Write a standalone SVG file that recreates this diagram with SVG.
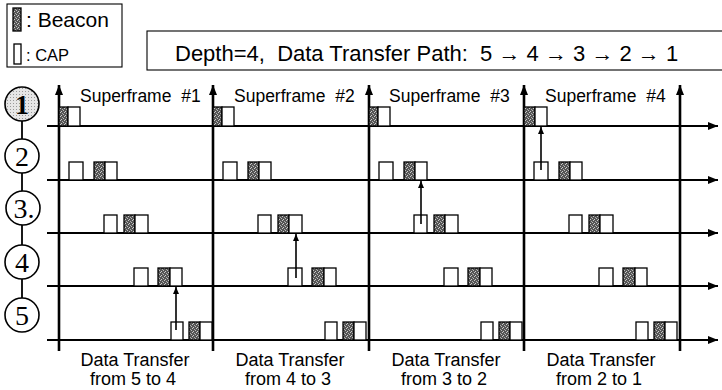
<svg xmlns="http://www.w3.org/2000/svg" width="722" height="390" viewBox="0 0 722 390">
<defs>
<style>
.ax{stroke:#000;stroke-width:2;fill:none}
.vx{stroke:#000;stroke-width:2.6;fill:none}
.cap{fill:#fff;stroke:#000;stroke-width:1.3}
.bcn{fill:url(#stip);stroke:#000;stroke-width:1.3}
.xfer{stroke:#000;stroke-width:1.6;fill:none}
.box{fill:#fff;stroke:#000;stroke-width:1.1}
.circ{fill:#fff;stroke:#000;stroke-width:1.6}
.link{stroke:#000;stroke-width:1.8}
.num{font-family:"Liberation Serif","Times New Roman",serif;font-size:28px;text-anchor:middle;fill:#000}
.sf{font-family:"Liberation Sans",Arial,sans-serif;font-size:17.5px;fill:#000;word-spacing:5px}
.lbl{font-family:"Liberation Sans",Arial,sans-serif;font-size:18px;fill:#000;text-anchor:middle}
.sans{font-family:"Liberation Sans",Arial,sans-serif;fill:#000}
</style>
<pattern id="stip" width="4" height="4" patternUnits="userSpaceOnUse">
<rect width="4" height="4" fill="#555"/>
<rect x="1" y="0" width="1" height="1" fill="#c8c8c8"/>
<rect x="3" y="1" width="1" height="1" fill="#aaa"/>
<rect x="0" y="2" width="1" height="1" fill="#bbb"/>
<rect x="2" y="3" width="1" height="1" fill="#ccc"/>
</pattern>
<pattern id="dots" width="3" height="3" patternUnits="userSpaceOnUse">
<rect width="3" height="3" fill="#e6e6e6"/>
<rect x="1" y="1" width="1" height="1" fill="#999"/>
</pattern>
<marker id="ah" markerUnits="userSpaceOnUse" markerWidth="11" markerHeight="9" refX="10" refY="4" orient="auto">
<path d="M0,0 L10,4 L0,8 z" fill="#000"/>
</marker>
<marker id="ahs" markerUnits="userSpaceOnUse" markerWidth="8" markerHeight="7" refX="7" refY="3" orient="auto">
<path d="M0,0 L7,3 L0,6 z" fill="#000"/>
</marker>
</defs>

<!-- legend -->
<g id="legend">
<rect class="box" x="7" y="4" width="115" height="63"/>
<rect class="bcn" x="13" y="8" width="8" height="23"/>
<text class="sans" x="26" y="27" font-size="21">: Beacon</text>
<rect class="cap" x="14" y="44" width="7" height="20"/>
<text class="sans" x="26" y="61" font-size="16.5">: CAP</text>
</g>

<!-- title -->
<g id="title">
<rect class="box" x="147" y="31" width="590" height="39"/>
<text class="sans" x="175" y="61" font-size="22" xml:space="preserve">Depth=4,  Data Transfer Path:  5 → 4 → 3 → 2 → 1</text>
</g>

<!-- time axes -->
<g id="axes">
<line class="ax" x1="47" y1="126" x2="718" y2="126" marker-end="url(#ah)"/>
<line class="ax" x1="47" y1="180" x2="718" y2="180" marker-end="url(#ah)"/>
<line class="ax" x1="47" y1="233" x2="718" y2="233" marker-end="url(#ah)"/>
<line class="ax" x1="47" y1="286" x2="718" y2="286" marker-end="url(#ah)"/>
<line class="ax" x1="47" y1="340" x2="718" y2="340" marker-end="url(#ah)"/>
<line class="vx" x1="59" y1="351" x2="59" y2="85" marker-end="url(#ah)"/>
<line class="vx" x1="213" y1="351" x2="213" y2="85" marker-end="url(#ah)"/>
<line class="vx" x1="369" y1="351" x2="369" y2="85" marker-end="url(#ah)"/>
<line class="vx" x1="524" y1="351" x2="524" y2="85" marker-end="url(#ah)"/>
<line class="vx" x1="680" y1="351" x2="680" y2="85" marker-end="url(#ah)"/>
</g>

<!-- superframe labels -->
<g id="sf-labels">
<text class="sf" x="80" y="102">Superframe #1</text>
<text class="sf" x="234" y="102">Superframe #2</text>
<text class="sf" x="389" y="102">Superframe #3</text>
<text class="sf" x="545" y="102">Superframe #4</text>
</g>

<!-- superframe blocks -->
<g id="blocks-sf1" transform="translate(59,0)">
<rect class="bcn" x="0" y="107" width="9" height="19"/><rect class="cap" x="9" y="107" width="12" height="19"/>
<rect class="cap" x="10" y="162" width="14" height="18"/><rect class="bcn" x="35" y="162" width="11" height="18"/><rect class="cap" x="46" y="162" width="12" height="18"/>
<rect class="cap" x="45" y="215" width="13" height="18"/><rect class="bcn" x="65" y="215" width="11" height="18"/><rect class="cap" x="76" y="215" width="13" height="18"/>
<rect class="cap" x="75" y="268" width="14" height="18"/><rect class="bcn" x="99" y="268" width="12" height="18"/><rect class="cap" x="111" y="268" width="12" height="18"/>
<rect class="cap" x="112" y="322" width="12" height="18"/><rect class="bcn" x="130" y="322" width="11" height="18"/><rect class="cap" x="141" y="322" width="12" height="18"/>
</g>
<g id="blocks-sf2" transform="translate(213,0)">
<rect class="bcn" x="0" y="107" width="9" height="19"/><rect class="cap" x="9" y="107" width="12" height="19"/>
<rect class="cap" x="10" y="162" width="14" height="18"/><rect class="bcn" x="35" y="162" width="11" height="18"/><rect class="cap" x="46" y="162" width="12" height="18"/>
<rect class="cap" x="45" y="215" width="13" height="18"/><rect class="bcn" x="65" y="215" width="11" height="18"/><rect class="cap" x="76" y="215" width="13" height="18"/>
<rect class="cap" x="75" y="268" width="14" height="18"/><rect class="bcn" x="99" y="268" width="12" height="18"/><rect class="cap" x="111" y="268" width="12" height="18"/>
<rect class="cap" x="112" y="322" width="12" height="18"/><rect class="bcn" x="130" y="322" width="11" height="18"/><rect class="cap" x="141" y="322" width="12" height="18"/>
</g>
<g id="blocks-sf3" transform="translate(369,0)">
<rect class="bcn" x="0" y="107" width="9" height="19"/><rect class="cap" x="9" y="107" width="12" height="19"/>
<rect class="cap" x="10" y="162" width="14" height="18"/><rect class="bcn" x="35" y="162" width="11" height="18"/><rect class="cap" x="46" y="162" width="12" height="18"/>
<rect class="cap" x="45" y="215" width="13" height="18"/><rect class="bcn" x="65" y="215" width="11" height="18"/><rect class="cap" x="76" y="215" width="13" height="18"/>
<rect class="cap" x="75" y="268" width="14" height="18"/><rect class="bcn" x="99" y="268" width="12" height="18"/><rect class="cap" x="111" y="268" width="12" height="18"/>
<rect class="cap" x="112" y="322" width="12" height="18"/><rect class="bcn" x="130" y="322" width="11" height="18"/><rect class="cap" x="141" y="322" width="12" height="18"/>
</g>
<g id="blocks-sf4" transform="translate(524,0)">
<rect class="bcn" x="0" y="107" width="11" height="19"/><rect class="cap" x="11" y="107" width="12" height="19"/>
<rect class="cap" x="10" y="162" width="14" height="18"/><rect class="bcn" x="35" y="162" width="11" height="18"/><rect class="cap" x="46" y="162" width="12" height="18"/>
<rect class="cap" x="45" y="215" width="13" height="18"/><rect class="bcn" x="65" y="215" width="11" height="18"/><rect class="cap" x="76" y="215" width="13" height="18"/>
<rect class="cap" x="75" y="268" width="14" height="18"/><rect class="bcn" x="99" y="268" width="12" height="18"/><rect class="cap" x="111" y="268" width="12" height="18"/>
<rect class="cap" x="112" y="322" width="12" height="18"/><rect class="bcn" x="130" y="322" width="11" height="18"/><rect class="cap" x="141" y="322" width="12" height="18"/>
</g>

<!-- data transfer arrows and tree links (connectors) -->
<g id="connectors">
<line class="xfer" x1="176" y1="330" x2="176" y2="287" marker-end="url(#ahs)"/>
<line class="xfer" x1="296" y1="278" x2="296" y2="234" marker-end="url(#ahs)"/>
<line class="xfer" x1="421" y1="224" x2="421" y2="181" marker-end="url(#ahs)"/>
<line class="xfer" x1="541" y1="170" x2="541" y2="127" marker-end="url(#ahs)"/>
<line class="link" x1="22" y1="120" x2="22" y2="139"/>
<line class="link" x1="22" y1="172" x2="22" y2="191"/>
<line class="link" x1="22" y1="225" x2="22" y2="245"/>
<line class="link" x1="22" y1="279" x2="22" y2="298"/>
</g>

<!-- tree nodes -->
<g id="node1"><circle class="circ" cx="22" cy="104" r="17" style="fill:url(#dots)"/><text class="num" x="22" y="114" font-weight="bold">1</text></g>
<g id="node2"><circle class="circ" cx="22" cy="156" r="17"/><text class="num" x="22" y="166">2</text></g>
<g id="node3"><circle class="circ" cx="23" cy="208" r="17"/><text class="num" x="24" y="218">3.</text></g>
<g id="node4"><circle class="circ" cx="22" cy="262" r="17"/><text class="num" x="22" y="272">4</text></g>
<g id="node5"><circle class="circ" cx="22" cy="315" r="17"/><text class="num" x="22" y="325">5</text></g>

<!-- bottom labels -->
<g id="bottom-labels">
<text class="lbl" x="135" y="366">Data Transfer</text>
<text class="lbl" x="133" y="385">from 5 to 4</text>
<text class="lbl" x="290" y="366">Data Transfer</text>
<text class="lbl" x="288" y="385">from 4 to 3</text>
<text class="lbl" x="446" y="366">Data Transfer</text>
<text class="lbl" x="444" y="385">from 3 to 2</text>
<text class="lbl" x="601" y="366">Data Transfer</text>
<text class="lbl" x="599" y="385">from 2 to 1</text>
</g>
</svg>
